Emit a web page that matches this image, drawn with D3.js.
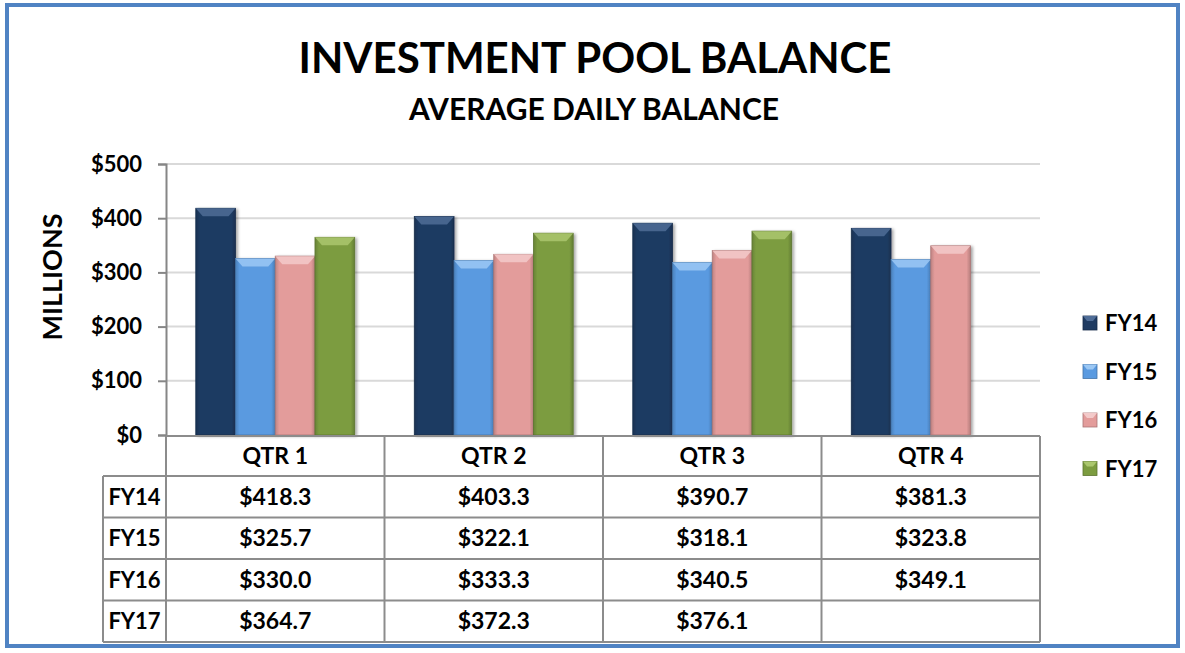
<!DOCTYPE html>
<html>
<head>
<meta charset="utf-8">
<script src="https://cdn.jsdelivr.net/npm/d3@7"></script>
<style>
  body { margin: 0; background: #fff; }
  svg text { font-family: Lato, "Open Sans", sans-serif; font-weight: bold; fill: #000; }
</style>
</head>
<body>
<div id="chart"></div>
<script>
// Data
var quarters = ['QTR 1', 'QTR 2', 'QTR 3', 'QTR 4'];
var years = ['FY14', 'FY15', 'FY16', 'FY17'];
var fy14 = [418.3, 403.3, 390.7, 381.3];
var fy15 = [325.7, 322.1, 318.1, 323.8];
var fy16 = [330.0, 333.3, 340.5, 349.1];
var fy17 = [364.7, 372.3, 376.1, null];
var yTicks = [0, 100, 200, 300, 400, 500];

var seriesValues = [fy14, fy15, fy16, fy17];
var colors = ['#1F3B62', '#5A9AE0', '#E39C9B', '#7C9C40'];
var lightColors = ['#4F6D97', '#9CC8F4', '#F3CACA', '#ABC76E'];

var width = 1185,
    height = 653;

var plotLeft = 166, plotRight = 1040, plotTop = 164, plotBottom = 435;

var svg = d3.select('#chart').append('svg')
    .attr('width', width)
    .attr('height', height);

var defs = svg.append('defs');

// Drop shadow for bars
var shadow = defs.append('filter').attr('id', 'shadow')
    .attr('x', '-20%').attr('y', '-10%').attr('width', '150%').attr('height', '130%');
shadow.append('feDropShadow')
    .attr('dx', 2).attr('dy', 1).attr('stdDeviation', 1.5)
    .attr('flood-color', '#000').attr('flood-opacity', 0.35);

// Side gradients for bar bevel look
colors.forEach(function(c, i) {
  var g = defs.append('linearGradient').attr('id', 'grad' + i)
      .attr('x1', 0).attr('x2', 1).attr('y1', 0).attr('y2', 0);
  g.append('stop').attr('offset', '0%').attr('stop-color', d3.color(c).darker(0.5));
  g.append('stop').attr('offset', '10%').attr('stop-color', c);
  g.append('stop').attr('offset', '90%').attr('stop-color', c);
  g.append('stop').attr('offset', '100%').attr('stop-color', d3.color(c).darker(0.6));
});

// Outer frame
svg.append('rect')
    .attr('x', 7).attr('y', 5)
    .attr('width', 1171).attr('height', 641)
    .attr('fill', 'none')
    .attr('stroke', '#5083C3')
    .attr('stroke-width', 4);

// Titles
svg.append('text')
    .attr('x', 595).attr('y', 73)
    .attr('text-anchor', 'middle')
    .style('font-size', '42px')
    .text('INVESTMENT POOL BALANCE');

svg.append('text')
    .attr('x', 594).attr('y', 120)
    .attr('text-anchor', 'middle')
    .style('font-size', '30px')
    .text('AVERAGE DAILY BALANCE');

// Scales
var x0 = d3.scaleBand().domain(quarters).range([plotLeft, plotRight]).paddingInner(0).paddingOuter(0);
var x1 = d3.scaleBand().domain(years).range([0, x0.bandwidth()]).paddingOuter(0.75).paddingInner(0);
var y = d3.scaleLinear().domain([0, 500]).range([plotBottom, plotTop]);

// Gridlines
svg.append('g').selectAll('line')
    .data(yTicks.slice(1))
  .enter().append('line')
    .attr('x1', plotLeft).attr('x2', plotRight)
    .attr('y1', function(d) { return y(d); })
    .attr('y2', function(d) { return y(d); })
    .attr('stroke', '#D9D9D9')
    .attr('stroke-width', 2);

// Y axis
var yAxis = d3.axisLeft(y)
    .tickValues(yTicks)
    .tickSize(8)
    .tickPadding(16)
    .tickFormat(function(d) { return '$' + d; });

var yg = svg.append('g')
    .attr('transform', 'translate(' + plotLeft + ',0)')
    .call(yAxis);
yg.select('.domain').attr('stroke', '#868686').attr('stroke-width', 2);
yg.selectAll('.tick line').attr('stroke', '#868686').attr('stroke-width', 2);
yg.selectAll('.tick text')
    .style('font-size', '22px')
    .style('font-family', 'Lato, "Open Sans", sans-serif')
    .style('font-weight', 'bold')
    .attr('fill', '#000');

svg.append('text')
    .attr('transform', 'translate(62,' + 277 + ') rotate(-90)')
    .attr('text-anchor', 'middle')
    .style('font-size', '27px')
    .text('MILLIONS');

// Bars
var barData = [];
quarters.forEach(function(q, qi) {
  years.forEach(function(yr, si) {
    var v = seriesValues[si][qi];
    if (v !== null) barData.push({ quarter: q, year: yr, si: si, value: v });
  });
});

var bars = svg.append('g').selectAll('g.bar')
    .data(barData)
  .enter().append('g')
    .attr('class', 'bar');

bars.append('rect')
    .attr('x', function(d) { return x0(d.quarter) + x1(d.year); })
    .attr('y', function(d) { return y(d.value); })
    .attr('width', x1.bandwidth())
    .attr('height', function(d) { return y(0) - y(d.value); })
    .attr('fill', function(d) { return 'url(#grad' + d.si + ')'; })
    .attr('stroke', function(d) { return d3.color(colors[d.si]).darker(0.8); })
    .attr('stroke-width', 0.8)
    .attr('filter', 'url(#shadow)');

// Top bevel
bars.append('path')
    .attr('d', function(d) {
      var bx = x0(d.quarter) + x1(d.year), by = y(d.value), w = x1.bandwidth();
      return 'M' + bx + ',' + by + 'L' + (bx + w) + ',' + by +
             'L' + (bx + w - 7) + ',' + (by + 8) + 'L' + (bx + 7) + ',' + (by + 8) + 'Z';
    })
    .attr('fill', function(d) { return lightColors[d.si]; })
    .attr('opacity', 0.85);

// Table
var rowLabelLeft = 103;
var headerTop = 436, headerBottom = 476;
var rowH = 41.5;
var tableBottom = headerBottom + rowH * years.length;
var rowY = d3.scaleBand().domain(years).range([headerBottom, tableBottom]);

var table = svg.append('g');
var gridStroke = '#8C8C8C';

// Vertical lines
quarters.concat(['end']).forEach(function(q, i) {
  var xx = i < quarters.length ? x0(q) : plotRight;
  table.append('line')
      .attr('x1', xx).attr('x2', xx)
      .attr('y1', headerTop).attr('y2', tableBottom)
      .attr('stroke', gridStroke).attr('stroke-width', 2);
});
table.append('line')
    .attr('x1', rowLabelLeft).attr('x2', rowLabelLeft)
    .attr('y1', headerBottom).attr('y2', tableBottom)
    .attr('stroke', gridStroke).attr('stroke-width', 2);

// Horizontal lines
table.append('line')
    .attr('x1', plotLeft).attr('x2', plotRight)
    .attr('y1', headerTop).attr('y2', headerTop)
    .attr('stroke', gridStroke).attr('stroke-width', 2);
years.forEach(function(yr) {
  table.append('line')
      .attr('x1', rowLabelLeft).attr('x2', plotRight)
      .attr('y1', rowY(yr)).attr('y2', rowY(yr))
      .attr('stroke', gridStroke).attr('stroke-width', 2);
});
table.append('line')
    .attr('x1', rowLabelLeft).attr('x2', plotRight)
    .attr('y1', tableBottom).attr('y2', tableBottom)
    .attr('stroke', gridStroke).attr('stroke-width', 2);

// Header labels
table.selectAll('text.qh')
    .data(quarters)
  .enter().append('text')
    .attr('class', 'qh')
    .attr('x', function(d) { return x0(d) + x0.bandwidth() / 2; })
    .attr('y', (headerTop + headerBottom) / 2 + 8)
    .attr('text-anchor', 'middle')
    .style('font-size', '23px')
    .text(function(d) { return d; });

// Row labels
table.selectAll('text.rl')
    .data(years)
  .enter().append('text')
    .attr('class', 'rl')
    .attr('x', (rowLabelLeft + plotLeft) / 2)
    .attr('y', function(d) { return rowY(d) + rowY.bandwidth() / 2 + 8; })
    .attr('text-anchor', 'middle')
    .style('font-size', '22px')
    .text(function(d) { return d; });

// Cell values
years.forEach(function(yr, si) {
  quarters.forEach(function(q, qi) {
    var v = seriesValues[si][qi];
    if (v === null) return;
    table.append('text')
        .attr('x', x0(q) + x0.bandwidth() / 2)
        .attr('y', rowY(yr) + rowY.bandwidth() / 2 + 8)
        .attr('text-anchor', 'middle')
        .style('font-size', '23px')
        .text('$' + v.toFixed(1));
  });
});

// Legend
var legend = svg.append('g').selectAll('g')
    .data(years)
  .enter().append('g')
    .attr('transform', function(d, i) { return 'translate(1083,' + (316 + i * 48.5) + ')'; });

legend.append('rect')
    .attr('width', 14).attr('height', 14)
    .attr('fill', function(d, i) { return colors[i]; })
    .attr('stroke', function(d, i) { return d3.color(colors[i]).darker(0.8); })
    .attr('stroke-width', 0.8);
legend.append('path')
    .attr('d', 'M0,0L14,0L10,5L4,5Z')
    .attr('fill', function(d, i) { return lightColors[i]; });

legend.append('text')
    .attr('x', 22).attr('y', 15)
    .style('font-size', '22px')
    .text(function(d) { return d; });
</script>
</body>
</html>
